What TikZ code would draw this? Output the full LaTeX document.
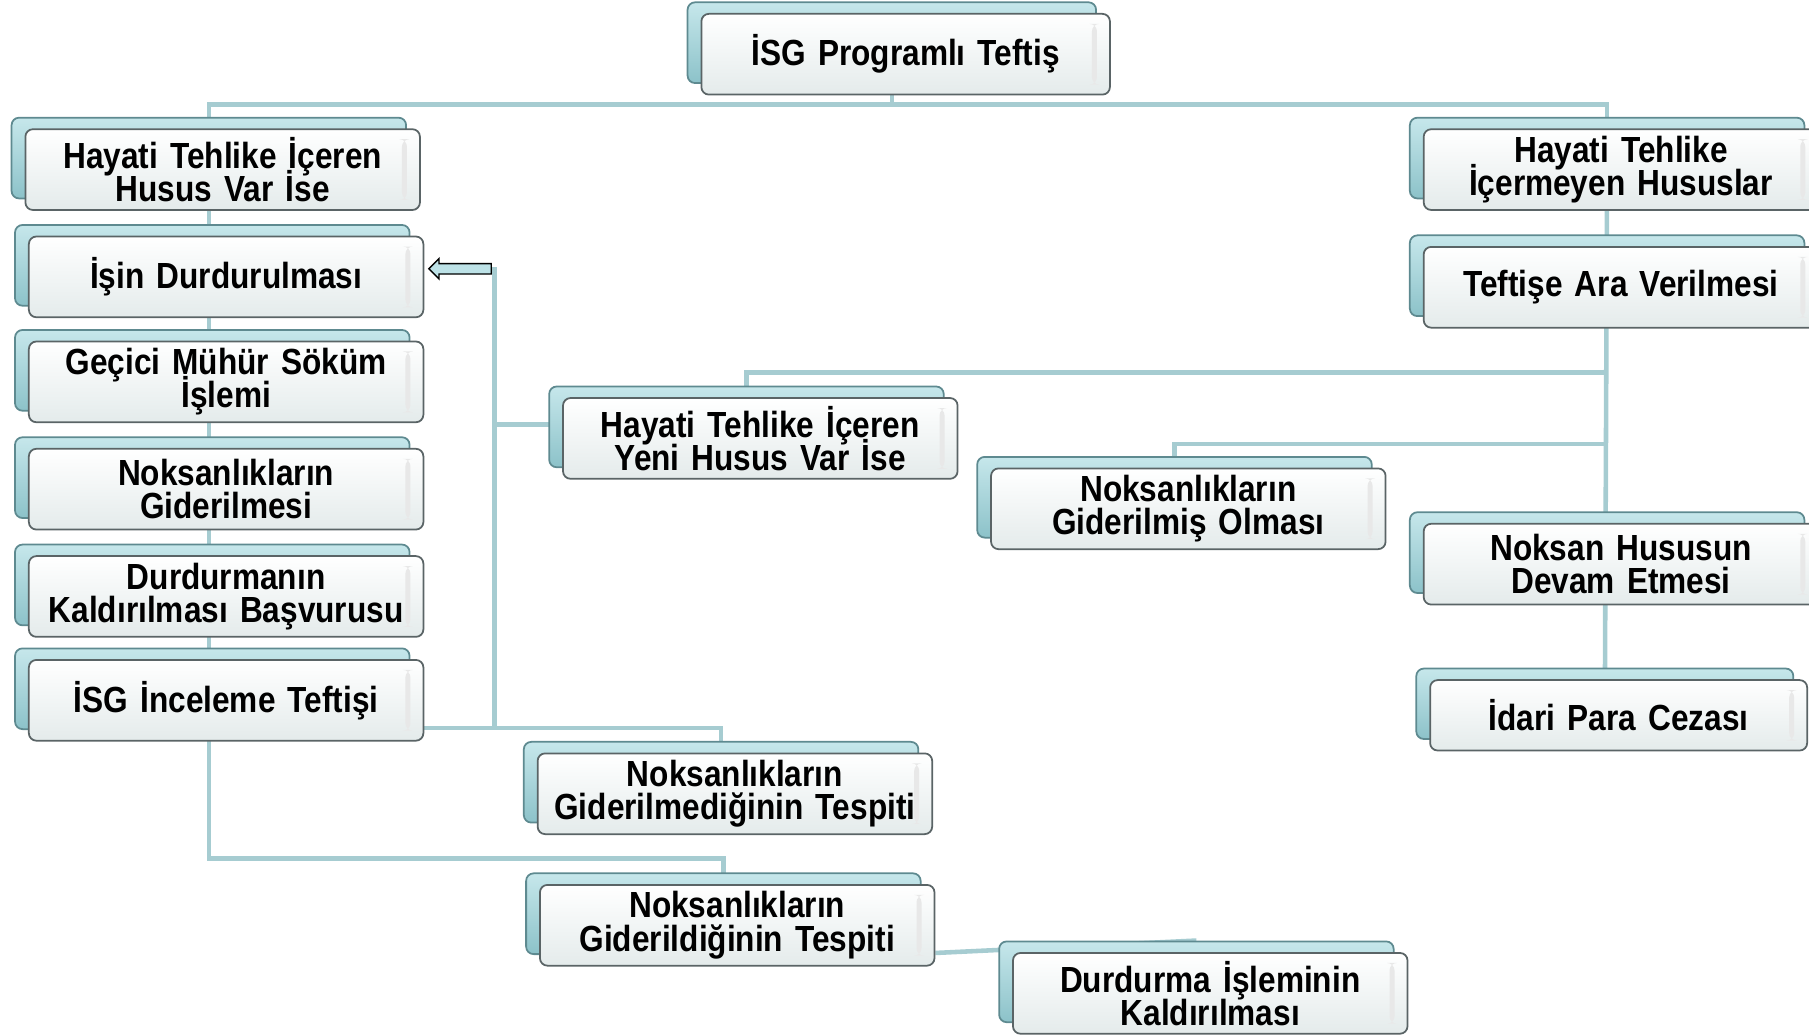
\documentclass[tikz,border=0pt]{standalone}
\usepackage{fontspec}
\setmainfont{Liberation Sans}[FakeStretch=0.87]
\usetikzlibrary{calc,backgrounds,shapes.arrows}
\definecolor{linkc}{HTML}{A6CCD1}
\definecolor{backtop}{HTML}{C6E7EB}
\definecolor{backbot}{HTML}{8CC2C9}
\definecolor{backline}{HTML}{5E8A90}
\definecolor{frontline}{HTML}{5A6466}
\definecolor{frontbot}{HTML}{E4EBEB}
\definecolor{arrfill}{HTML}{BDE2E7}
\newcommand{\boxfont}{\bfseries\fontsize{20.7}{19}\selectfont\setlength{\lineskiplimit}{-100pt}\relax}

\begin{document}
\begin{tikzpicture}[x=0.0231cm, y=-0.0231cm,
  box/.style={draw=frontline, line width=1pt, rounded corners=0.15cm, top color=white, bottom color=frontbot,
    minimum width=7.9cm, minimum height=1.617cm, text width=7.4cm, align=center, inner sep=0pt,
    font=\boxfont,
    preaction={draw=backline, line width=1pt, top color=backtop, bottom color=backbot,
      transform canvas={xshift=-0.277cm, yshift=0.231cm}},
    path picture={\fill[gray!18] ([shift={(-0.36cm,-0.2cm)}]path picture bounding box.north east)
      rectangle ([shift={(-0.26cm,0.2cm)}]path picture bounding box.south east);}},
  link/.style={draw=linkc, line width=2.6pt}]
  \useasboundingbox (0,0) rectangle (1568,897);

  % boxes
  \node[box, minimum width=8.18cm] (isg) at (785,47) {İSG Programlı Teftiş};
  \node[box] (hti) at (193,147) {Hayati Tehlike İçeren\\Husus Var İse};
  \node[box] (isin) at (196,240) {İşin Durdurulması};
  \node[box] (muhur) at (196,331) {Geçici Mühür Söküm\\İşlemi};
  \node[box] (gider) at (196,424) {Noksanlıkların\\Giderilmesi};
  \node[box] (basv) at (196,517) {Durdurmanın\\Kaldırılması Başvurusu};
  \node[box] (incel) at (196,607) {İSG İnceleme Teftişi};
  \node[box] (yeni) at (659,380) {Hayati Tehlike İçeren\\Yeni Husus Var İse};
  \node[box] (gmis) at (1030,441) {Noksanlıkların\\Giderilmiş Olması};
  \node[box] (htn) at (1405,147) {Hayati Tehlike\\İçermeyen Hususlar};
  \node[box] (ara) at (1405,249) {Teftişe Ara Verilmesi};
  \node[box] (devam) at (1405,489) {Noksan Hususun\\Devam Etmesi};
  \node[box, minimum width=7.55cm, minimum height=1.41cm] (idari) at (1403,620) {İdari Para Cezası};
  \node[box] (gmed) at (637,688) {Noksanlıkların\\Giderilmediğinin Tespiti};
  \node[box] (gdil) at (639,802) {Noksanlıkların\\Giderildiğinin Tespiti};
  \node[box] (dkal) at (1049,861) {Durdurma İşleminin\\Kaldırılması};

  \node[single arrow, draw=black, fill=arrfill, line width=0.8pt, shape border rotate=180,
    minimum height=1.25cm, inner sep=0.09cm, single arrow head extend=0.1cm] (arr) at (401,233) {};
  \coordinate (v) at ($(incel.east)+(61,24)$);

  % connectors
  \begin{scope}[on background layer]
    \draw[link] ($(isg.south)+(-12,0)$) -- ++(0,8) coordinate (t0);
    \draw[link] ($(hti)+(-12,0)$) |- (t0) -| ($(htn)+(-12,0)$);
    \draw[link] ($(hti)+(-12,0)$) |- ($(gdil.north)+(-12,-22)$) -- ($(gdil.north)+(-12,0)$);
    \draw[link] ($(htn)+(-12,0)$) -- ($(idari)+(-12,0)$);
    \draw[link] ($(yeni.north)+(-12,0)$) |- ($(ara)+(-12,74)$);
    \draw[link] ($(gmis.north)+(-12,0)$) |- ($(ara)+(-12,136)$);
    \draw[link] ($(incel.east)+(0,24)$) -| ($(gmed.north)+(-12,0)$);
    \draw[link] (arr) -| (v);
    \draw[link] ($(yeni.west)+(0,-12)$) coordinate (yw) -- (yw -| v);
    \draw[link] ($(gdil.east)+(0,24)$) -- ($(dkal.north)+(-12,-10)$);
  \end{scope}
\end{tikzpicture}
\end{document}
